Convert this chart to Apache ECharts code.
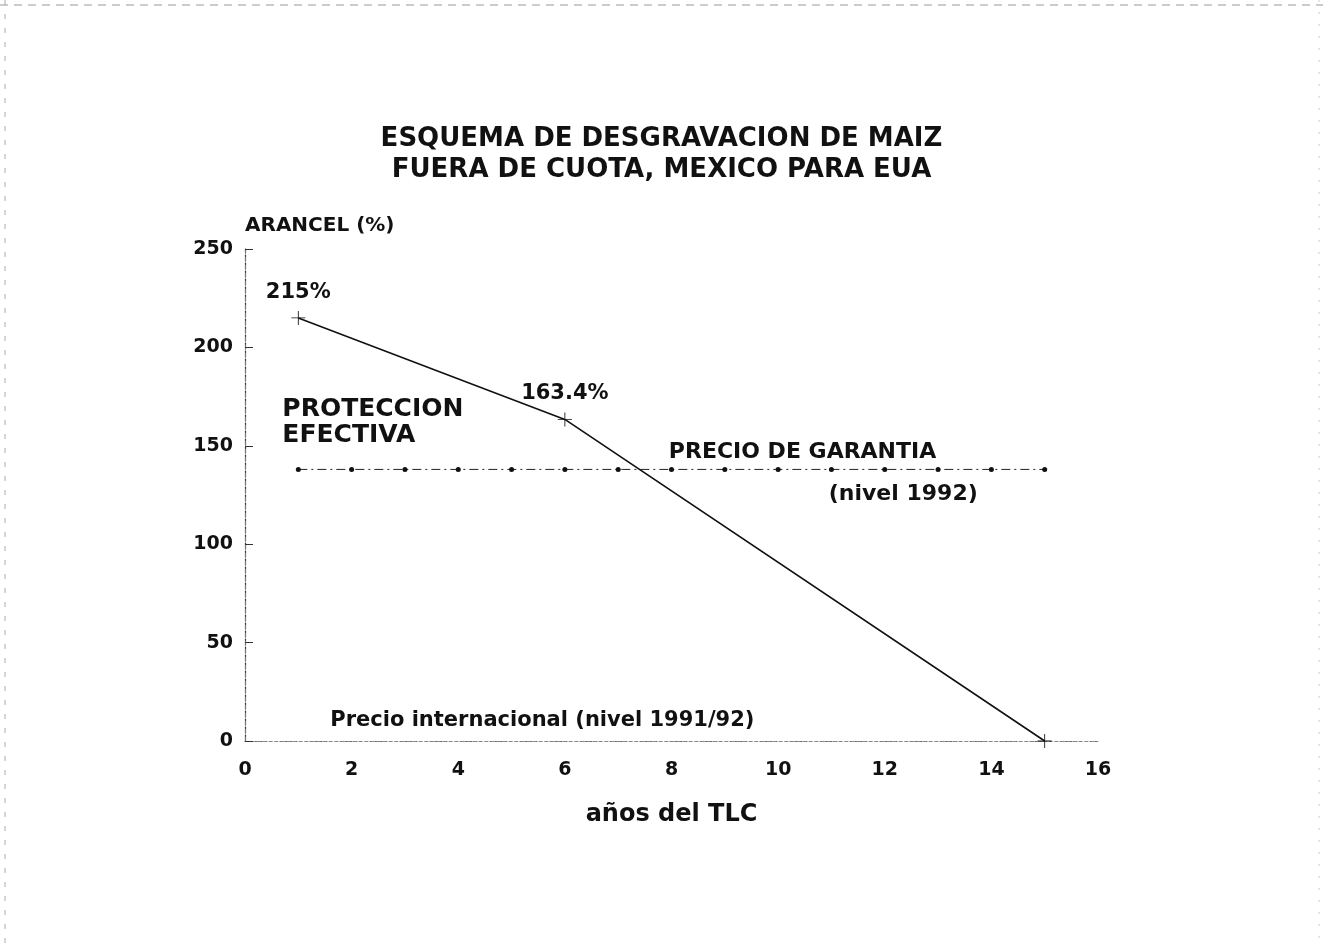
<!DOCTYPE html>
<html><head><meta charset="utf-8">
<script src="https://cdn.jsdelivr.net/npm/echarts@6/dist/echarts.min.js"></script>
<style>html,body{margin:0;padding:0;background:#fff;}#c{width:1323px;height:948px;}</style>
</head><body><div id="c"></div>
<script>
const titleLines = ['ESQUEMA DE DESGRAVACION DE MAIZ', 'FUERA DE CUOTA, MEXICO PARA EUA'];
const xTicks = [0, 2, 4, 6, 8, 10, 12, 14, 16];
const yTicks = [0, 50, 100, 150, 200, 250];
const arancelYears = [1, 6, 15];
const arancelValues = [215, 163.4, 0];
const garantiaYears = [1,2,3,4,5,6,7,8,9,10,11,12,13,14,15];
const garantiaValue = 138;
const notes = [
  {text: 'PROTECCION\nEFECTIVA', x: 0.7, y: 162, size: 25},
  {text: 'PRECIO DE GARANTIA', x: 7.95, y: 146.5, size: 22},
  {text: '(nivel 1992)', x: 10.95, y: 125.5, size: 22},
  {text: 'Precio internacional (nivel 1991/92)', x: 1.6, y: 10.5, size: 21}
];
const pointLabels = ['215%', '163.4%', ''];

const font = 'DejaVu Sans, Verdana, sans-serif';
const chart = echarts.init(document.getElementById('c'));
const plus = 'path://M-0.6,-10h1.2v20h-1.2z M-10,-0.6h20v1.2h-20z';
chart.setOption({
  backgroundColor: '#fff',
  animation: false,
  title: {
    text: titleLines.join('\n'),
    left: 'center', top: 119,
    textStyle: {fontFamily: font, fontSize: 26, fontWeight: 'bold', color: '#111', lineHeight: 31}
  },
  grid: {left: 245, right: 225, top: 249, bottom: 207},
  xAxis: [{
    type: 'value', min: 0, max: 16, interval: 2,
    name: 'años del TLC', nameLocation: 'middle', nameGap: 62,
    nameTextStyle: {fontFamily: font, fontSize: 24, fontWeight: 'bold', color: '#111'},
    axisLine: {show: true, lineStyle: {color: '#666', type: [2, 3], width: 1}},
    axisTick: {show: false},
    axisLabel: {fontFamily: font, fontSize: 19, fontWeight: 'bold', color: '#111', margin: 20,
      formatter: v => xTicks.includes(v) ? String(v) : ''},
    splitLine: {show: false}
  }, {
    type: 'value', min: 0, max: 16, position: 'top',
    axisLine: {show: true, lineStyle: {color: '#888', type: [3, 3], width: 1}},
    axisTick: {show: false}, axisLabel: {show: false}, splitLine: {show: false}
  }],
  yAxis: [{
    type: 'value', min: 0, max: 250, interval: 50,
    name: 'ARANCEL (%)', nameLocation: 'end', nameGap: 13,
    nameTextStyle: {fontFamily: font, fontSize: 20, fontWeight: 'bold', color: '#111', align: 'left'},
    axisLine: {show: true, lineStyle: {color: '#333', type: [6, 2], width: 1.2}},
    axisTick: {show: true, inside: true, length: 8, lineStyle: {color: '#333'}},
    axisLabel: {fontFamily: font, fontSize: 19, fontWeight: 'bold', color: '#111', margin: 12,
      formatter: v => yTicks.includes(v) ? String(v) : ''},
    splitLine: {show: false}
  }, {
    type: 'value', min: 0, max: 250, position: 'right',
    axisLine: {show: true, lineStyle: {color: '#777', type: [4, 4], width: 1}},
    axisTick: {show: false}, axisLabel: {show: false}, splitLine: {show: false}
  }],
  graphic: [
    {type: 'line', shape: {x1: 0, y1: 5, x2: 1323, y2: 5}, style: {stroke: '#999', lineWidth: 1, lineDash: [8, 6]}},
    {type: 'line', shape: {x1: 5, y1: 0, x2: 5, y2: 948}, style: {stroke: '#aaa', lineWidth: 1, lineDash: [5, 9]}},
    {type: 'line', shape: {x1: 1319, y1: 0, x2: 1319, y2: 948}, style: {stroke: '#ccc', lineWidth: 1, lineDash: [2, 10]}}
  ],
  series: [{
    type: 'line',
    data: arancelYears.map((x, i) => [x, arancelValues[i]]),
    symbol: plus, symbolSize: 14,
    itemStyle: {color: '#111'},
    lineStyle: {color: '#111', width: 1.6},
    label: {show: true, position: 'top', distance: 8, fontFamily: font, fontSize: 21, fontWeight: 'bold', color: '#111',
      formatter: p => pointLabels[p.dataIndex]},
    z: 5
  }, {
    type: 'line',
    data: garantiaYears.map(x => [x, garantiaValue]),
    symbol: 'circle', symbolSize: 5,
    itemStyle: {color: '#111'},
    lineStyle: {color: '#222', width: 1, type: [9, 4, 2, 4]},
    markPoint: {
      symbol: 'circle', symbolSize: 0,
      label: {show: true, position: 'right', distance: 0, fontFamily: font, fontWeight: 'bold', color: '#111',
        lineHeight: 26, align: 'left', formatter: p => p.name},
      data: notes.map(n => ({name: n.text, coord: [n.x, n.y], label: {fontSize: n.size}}))
    },
    z: 4
  }]
});
</script></body></html>
